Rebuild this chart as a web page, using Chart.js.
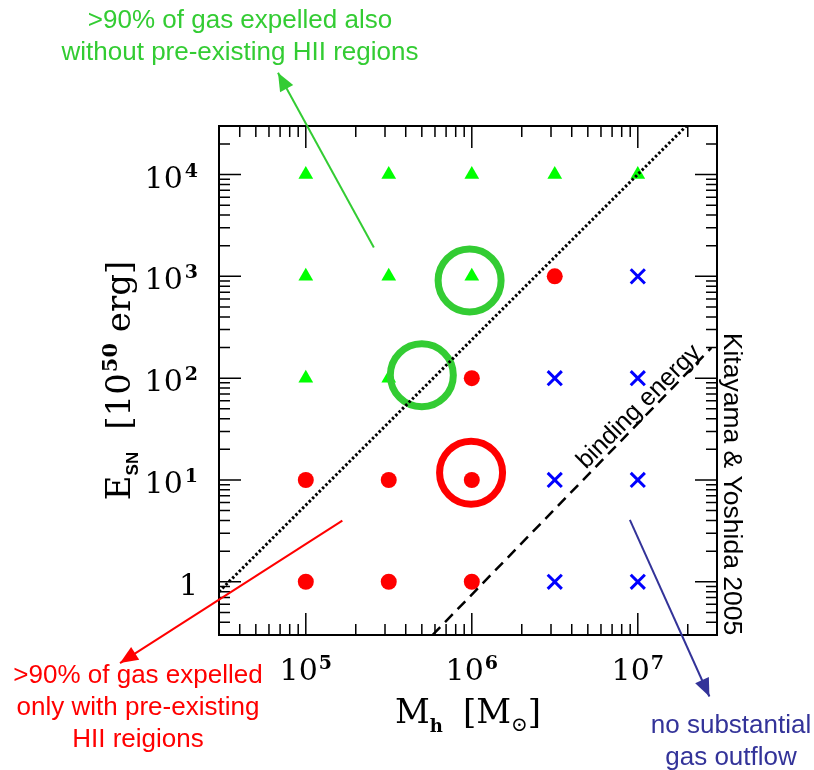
<!DOCTYPE html>
<html>
<head>
<meta charset="utf-8">
<title>Kitayama & Yoshida 2005</title>
<script src="https://cdn.jsdelivr.net/npm/chart.js@4.4.0/dist/chart.umd.min.js"></script>
<style>
    html, body { margin: 0; padding: 0; background: #fff; }
    #wrap { width: 814px; height: 770px; position: relative; }
</style>
</head>
<body>
<div id="wrap"><canvas id="chart"></canvas></div>
<script>
    // axis ranges: halo mass (Msun) and SN energy (1e50 erg)
    const xMin = 3e4, xMax = 3e7;
    const yMin = 0.3, yMax = 3e4;
    const xTickVals = [1e5, 1e6, 1e7];
    const xTickExp = ['5', '6', '7'];
    const yTickVals = [1, 10, 100, 1000, 10000];
    const yTickExp = ['', '1', '2', '3', '4'];
    const minorSteps = [1, 2, 3, 4, 5, 6, 7, 8, 9];

    // >90% expelled also without HII regions (triangles)
    const triM = [1e5, 3.16e5, 1e6, 3.16e6, 1e7, 1e5, 3.16e5, 1e6, 1e5, 3.16e5];
    const triE = [1e4, 1e4, 1e4, 1e4, 1e4, 1e3, 1e3, 1e3, 1e2, 1e2];
    // expelled only with pre-existing HII regions (filled circles)
    const dotM = [3.16e6, 1e6, 1e5, 3.16e5, 1e6, 1e5, 3.16e5, 1e6];
    const dotE = [1e3, 1e2, 10, 10, 10, 1, 1, 1];
    // no substantial outflow (crosses)
    const crossM = [1e7, 3.16e6, 1e7, 3.16e6, 1e7, 3.16e6, 1e7];
    const crossE = [1e3, 1e2, 1e2, 10, 10, 1, 1];

    // highlighted runs (open rings)
    const ringGreenM = [9.7e5, 5e5];
    const ringGreenE = [910, 107];
    const ringRedM = [9.9e5];
    const ringRedE = [11.8];

    // dotted boundary and binding energy line
    const dottedM = [3e4, 1.96e7];
    const dottedE = [0.8, 3e4];
    const bindM = [5.8e5, 2.77e7];
    const bindE = [0.3, 198];

    // arrows: tail -> tip
    const greenArrowM = [2.57e5, 6.8e4];
    const greenArrowE = [1920, 1e5];
    const redArrowM = [1.66e5, 7.6e3];
    const redArrowE = [3.98, 0.159];
    const blueArrowM = [8.96e6, 2.7e7];
    const blueArrowE = [4.05, 0.0746];

    const GREEN = '#33cc33';
    const NAVY = '#333399';
    const SERIF = "'DejaVu Serif', serif";
    const SANS = "'Liberation Sans', Arial, sans-serif";

    function pts(ms, es) {
        return ms.map((m, i) => ({ x: m, y: es[i] }));
    }

    // decade ticks 1..9 x 10^n inside the axis range
    function decadeTicks(scale) {
        const out = [];
        const lo = Math.floor(Math.log10(scale.min)), hi = Math.ceil(Math.log10(scale.max));
        for (let e = lo; e <= hi; e++) {
            minorSteps.forEach(s => {
                const v = s * Math.pow(10, e);
                if (v >= scale.min * 0.999 && v <= scale.max * 1.001) out.push({ value: v, major: s === 1 });
            });
        }
        scale.ticks = out;
    }

    function richWidth(ctx, parts) {
        let w = 0;
        parts.forEach(p => {
            ctx.font = p.font;
            w += ctx.measureText(p.t).width + (p.gap || 0);
        });
        return w;
    }

    function drawRich(ctx, parts, x, y, align) {
        const w = richWidth(ctx, parts);
        let cx = align === 'right' ? x - w : (align === 'center' ? x - w / 2 : x);
        ctx.textAlign = 'left';
        ctx.textBaseline = 'alphabetic';
        parts.forEach(p => {
            ctx.font = p.font;
            cx += (p.gap || 0);
            ctx.fillText(p.t, cx, y + (p.dy || 0));
            cx += ctx.measureText(p.t).width;
        });
    }

    // frame, inward ticks on all sides, tick labels and axis titles
    const axesPlugin = {
        id: 'axesPlugin',
        beforeDatasetsDraw(chart) {
            const ctx = chart.ctx;
            const a = chart.chartArea;
            const xs = chart.scales.x, ys = chart.scales.y;
            ctx.save();
            ctx.strokeStyle = '#000';
            ctx.lineWidth = 1.5;
            ctx.beginPath();
            xs.ticks.forEach(t => {
                const px = xs.getPixelForValue(t.value);
                if (px < a.left + 1 || px > a.right - 1) return;
                const len = t.major ? 22 : 11;
                ctx.moveTo(px, a.bottom); ctx.lineTo(px, a.bottom - len);
                ctx.moveTo(px, a.top); ctx.lineTo(px, a.top + len);
            });
            ys.ticks.forEach(t => {
                const py = ys.getPixelForValue(t.value);
                if (py < a.top + 1 || py > a.bottom - 1) return;
                const len = t.major ? 22 : 11;
                ctx.moveTo(a.left, py); ctx.lineTo(a.left + len, py);
                ctx.moveTo(a.right, py); ctx.lineTo(a.right - len, py);
            });
            ctx.stroke();
            ctx.lineWidth = 2;
            ctx.strokeRect(a.left, a.top, a.right - a.left, a.bottom - a.top);

            ctx.fillStyle = '#000';
            const big = '30px ' + SERIF;
            const sup = 'bold 19px ' + SERIF;
            xTickVals.forEach((v, i) => {
                const px = xs.getPixelForValue(v);
                drawRich(ctx, [{ t: '10', font: big }, { t: xTickExp[i], font: sup, dy: -11, gap: 1 }], px, a.bottom + 45, 'center');
            });
            yTickVals.forEach((v, i) => {
                const py = ys.getPixelForValue(v);
                const parts = yTickExp[i] === '' ? [{ t: '1', font: big }]
                    : [{ t: '10', font: big }, { t: yTickExp[i], font: sup, dy: -11, gap: 2 }];
                drawRich(ctx, parts, a.left - 21, py + 13, 'right');
            });

            // x title
            const tf = '34px ' + SERIF;
            drawRich(ctx, [
                { t: 'M', font: tf },
                { t: 'h', font: 'bold 18px ' + SERIF, dy: 9 },
                { t: '[', font: tf, gap: 20 },
                { t: 'M', font: tf },
                { t: '\u2299', font: '20px ' + SERIF, dy: 8 },
                { t: ']', font: tf }
            ], (a.left + a.right) / 2, a.bottom + 88, 'center');

            // y title, rotated
            ctx.save();
            ctx.translate(118, (a.top + a.bottom) / 2);
            ctx.rotate(-Math.PI / 2);
            drawRich(ctx, [
                { t: 'E', font: tf },
                { t: 'SN', font: 'bold 17px ' + SANS, dy: 8 },
                { t: '[', font: tf, gap: 22 },
                { t: '10', font: tf },
                { t: '50', font: 'bold 21px ' + SERIF, dy: -13, gap: 1 },
                { t: ' erg', font: tf },
                { t: ']', font: tf }
            ], 0, 12, 'center');
            ctx.restore();
            ctx.restore();
        },
        afterDatasetsDraw(chart) {
            const ctx = chart.ctx;
            ctx.save();
            // arrow heads at the tip of each arrow dataset
            chart.data.datasets.forEach((ds, i) => {
                if (!ds.arrow) return;
                const d = chart.getDatasetMeta(i).data;
                const p0 = d[0], p1 = d[1];
                const ang = Math.atan2(p1.y - p0.y, p1.x - p0.x);
                const L = 18, W = 7.5;
                ctx.fillStyle = ds.borderColor;
                ctx.beginPath();
                ctx.moveTo(p1.x, p1.y);
                ctx.lineTo(p1.x - L * Math.cos(ang) + W * Math.sin(ang), p1.y - L * Math.sin(ang) - W * Math.cos(ang));
                ctx.lineTo(p1.x - L * Math.cos(ang) - W * Math.sin(ang), p1.y - L * Math.sin(ang) + W * Math.cos(ang));
                ctx.closePath();
                ctx.fill();
            });

            ctx.textAlign = 'center';
            ctx.textBaseline = 'alphabetic';
            ctx.font = '26px ' + SANS;
            ctx.fillStyle = GREEN;
            ctx.fillText('>90% of gas expelled also', 240, 28);
            ctx.fillText('without pre-existing HII regions', 240, 60);
            ctx.fillStyle = '#ff0000';
            ctx.fillText('>90% of gas expelled', 138, 683);
            ctx.fillText('only with pre-existing', 138, 715);
            ctx.fillText('HII reigions', 138, 747);
            ctx.fillStyle = NAVY;
            ctx.fillText('no substantial', 731, 733);
            ctx.fillText('gas outflow', 731, 765);

            ctx.fillStyle = '#000';
            ctx.textBaseline = 'middle';
            ctx.font = '26.5px ' + SANS;
            ctx.save();
            ctx.translate(731, 484);
            ctx.rotate(Math.PI / 2);
            ctx.fillText('Kitayama & Yoshida 2005', 0, 0);
            ctx.restore();
            ctx.font = '25px ' + SANS;
            ctx.save();
            ctx.translate(639, 407);
            ctx.rotate(-Math.PI / 4);
            ctx.fillText('binding energy', 0, 0);
            ctx.restore();
            ctx.restore();
        }
    };

    const lineDefaults = { showLine: true, pointRadius: 0, fill: false, tension: 0 };

    new Chart(document.getElementById('chart'), {
        type: 'scatter',
        data: {
            datasets: [
                { data: pts(triM, triE), pointStyle: 'triangle', pointRadius: 8.5, backgroundColor: '#00ff00', borderColor: '#00ff00', borderWidth: 0, order: 6 },
                { data: pts(dotM, dotE), pointStyle: 'circle', pointRadius: 8, backgroundColor: '#ff0000', borderColor: '#ff0000', borderWidth: 0, order: 6 },
                { data: pts(crossM, crossE), pointStyle: 'crossRot', pointRadius: 10, borderColor: '#0000ff', borderWidth: 3, order: 6 },
                { data: pts(ringGreenM, ringGreenE), pointStyle: 'circle', pointRadius: 31.5, backgroundColor: 'rgba(0,0,0,0)', borderColor: GREEN, borderWidth: 7, order: 5 },
                { data: pts(ringRedM, ringRedE), pointStyle: 'circle', pointRadius: 31.5, backgroundColor: 'rgba(0,0,0,0)', borderColor: '#ff0000', borderWidth: 7, order: 5 },
                Object.assign({ data: pts(dottedM, dottedE), borderColor: '#000', borderWidth: 3, borderDash: [2.5, 2.2], order: 4 }, lineDefaults),
                Object.assign({ data: pts(bindM, bindE), borderColor: '#000', borderWidth: 2.5, borderDash: [11, 7], order: 4 }, lineDefaults),
                Object.assign({ data: pts(greenArrowM, greenArrowE), borderColor: GREEN, borderWidth: 2, clip: false, arrow: true, order: 1 }, lineDefaults),
                Object.assign({ data: pts(redArrowM, redArrowE), borderColor: '#ff0000', borderWidth: 2, clip: false, arrow: true, order: 1 }, lineDefaults),
                Object.assign({ data: pts(blueArrowM, blueArrowE), borderColor: NAVY, borderWidth: 2, clip: false, arrow: true, order: 1 }, lineDefaults)
            ]
        },
        options: {
            responsive: true,
            maintainAspectRatio: false,
            animation: false,
            events: [],
            layout: { padding: { left: 219, top: 126, right: 97, bottom: 135 } },
            plugins: { legend: { display: false }, tooltip: { enabled: false } },
            scales: {
                x: { type: 'logarithmic', min: xMin, max: xMax, display: false, ticks: { autoSkip: false }, afterBuildTicks: decadeTicks },
                y: { type: 'logarithmic', min: yMin, max: yMax, display: false, ticks: { autoSkip: false }, afterBuildTicks: decadeTicks }
            }
        },
        plugins: [axesPlugin]
    });
</script>
</body>
</html>
